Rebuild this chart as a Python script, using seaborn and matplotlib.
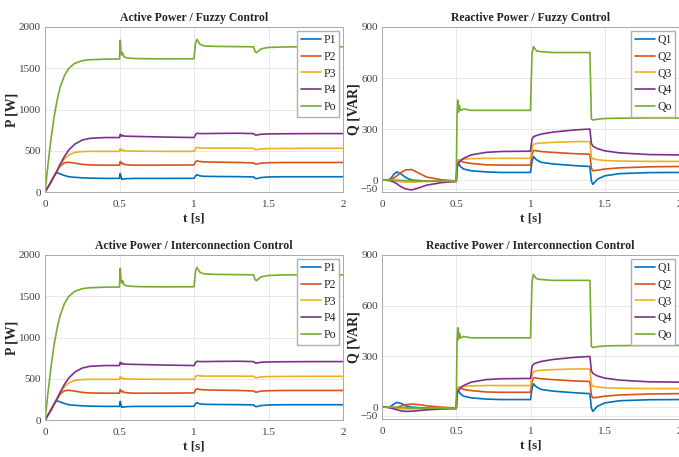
import numpy as np
import pandas as pd
import seaborn as sns
import matplotlib.pyplot as plt

# time breakpoints (s) shared by all traces
t = [0, 0.02, 0.04, 0.06, 0.08, 0.10, 0.13, 0.16, 0.20, 0.25, 0.30, 0.40, 0.50,
     0.505, 0.51, 0.515, 0.52, 0.53, 0.55, 0.60, 0.70, 0.80, 1.00,
     1.01, 1.02, 1.04, 1.07, 1.15, 1.30, 1.40,
     1.41, 1.42, 1.45, 1.50, 1.60, 1.80, 2.00]

# active power [W]
P1 = [0, 60, 120, 190, 235, 220, 200, 185, 178, 172, 168, 165, 165,
      225, 190, 152, 160, 158, 162, 165, 165, 165, 166,
      195, 210, 195, 190, 188, 186, 183,
      165, 162, 175, 182, 185, 185, 185]
P2 = [0, 60, 120, 190, 250, 310, 355, 360, 350, 335, 328, 325, 325,
      370, 355, 340, 350, 335, 330, 325, 325, 326, 328,
      365, 378, 370, 365, 362, 358, 352,
      340, 338, 350, 355, 358, 358, 358]
P3 = [0, 60, 120, 190, 255, 325, 400, 450, 480, 490, 493, 493, 493,
      525, 515, 500, 512, 500, 498, 495, 494, 493, 493,
      525, 540, 535, 532, 532, 532, 530,
      515, 512, 522, 526, 528, 530, 530]
P4 = [0, 60, 120, 190, 255, 330, 430, 510, 580, 630, 650, 660, 660,
      700, 690, 675, 688, 678, 676, 674, 670, 666, 660,
      695, 712, 708, 708, 710, 712, 708,
      692, 690, 700, 704, 706, 708, 708]
Po = [0, 330, 640, 900, 1100, 1260, 1410, 1500, 1560, 1592, 1603, 1610, 1612,
      1840, 1700, 1660, 1690, 1640, 1625, 1618, 1615, 1614, 1615,
      1800, 1850, 1790, 1770, 1765, 1762, 1760,
      1700, 1690, 1735, 1752, 1758, 1760, 1760]

# reactive power [VAR], fuzzy control
Q1_fz = [0, 0, 0, 10, 35, 48, 35, 15, 0, -3, -5, -6, -7,
         80, 105, 100, 90, 78, 65, 55, 48, 45, 45,
         110, 138, 120, 105, 95, 85, 80,
         -5, -25, 5, 25, 38, 44, 45]
Q2_fz = [0, 0, 2, 5, 12, 25, 45, 60, 62, 40, 18, 2, -5,
         80, 110, 118, 118, 112, 105, 98, 90, 88, 88,
         150, 175, 172, 168, 163, 155, 152,
         70, 55, 58, 65, 72, 78, 80]
Q3_fz = [0, 0, 0, -2, -5, -8, -10, -12, -12, -10, -8, -7, -7,
         80, 105, 115, 118, 120, 123, 126, 128, 128, 128,
         190, 210, 215, 218, 222, 226, 226,
         135, 125, 120, 115, 112, 110, 110]
Q4_fz = [0, 0, -2, -5, -12, -22, -40, -52, -58, -45, -30, -15, -8,
         60, 90, 100, 105, 115, 128, 148, 163, 168, 170,
         240, 255, 262, 270, 282, 295, 300,
         215, 200, 185, 172, 160, 150, 148]
Qo_fz = [0, 0, 0, 0, 0, 0, -2, -3, -5, -6, -6, -7, -8,
         380, 470, 400, 440, 410, 418, 410, 410, 410, 410,
         740, 785, 760, 755, 750, 750, 750,
         360, 353, 358, 362, 364, 365, 365]

# reactive power, interconnection control: start-up part (t <= 0.5)
Q1_ic_start = [0, 0, 0, 5, 18, 28, 22, 8, 0, -3, -5, -6, -7]
Q2_ic_start = [0, 0, 0, -3, -5, -2, 8, 15, 18, 15, 8, 0, -5]
Q3_ic_start = [0, 0, 0, -2, -4, -5, -8, -10, -10, -9, -8, -7, -7]
Q4_ic_start = [0, 0, -2, -5, -10, -15, -22, -25, -24, -20, -16, -11, -8]
Qo_ic_start = [0, 0, 0, 0, 0, 0, -2, -3, -5, -6, -6, -7, -8]

colors = ['#0072BD', '#D95319', '#EDB120', '#7E2F8E', '#77AC30']
P_names = ['P1', 'P2', 'P3', 'P4', 'Po']
Q_names = ['Q1', 'Q2', 'Q3', 'Q4', 'Qo']

Q_fz = [Q1_fz, Q2_fz, Q3_fz, Q4_fz, Qo_fz]
# after t = 0.5 both controllers give the same reactive traces
Q_ic = [s + q[13:] for s, q in zip(
    [Q1_ic_start, Q2_ic_start, Q3_ic_start, Q4_ic_start, Qo_ic_start], Q_fz)]


def long_df(names, series):
    return pd.DataFrame({
        't': np.tile(t, len(names)),
        'value': np.concatenate([np.asarray(s, float) for s in series]),
        'name': np.repeat(names, len(t)),
    })


sns.set_theme(style='whitegrid')
plt.rcParams['font.family'] = ['Liberation Serif', 'DejaVu Serif']

fig = plt.figure(figsize=(6.79, 4.57), dpi=100)
W, H = 679, 457


def box(l, tp, r, b):
    return [l / W, 1 - b / H, (r - l) / W, (b - tp) / H]


panels = [
    (box(45, 27, 343, 192), 'Active Power / Fuzzy Control', P_names,
     [P1, P2, P3, P4, Po], 'P [W]'),
    (box(382, 27, 679, 192), 'Reactive Power / Fuzzy Control', Q_names,
     Q_fz, 'Q [VAR]'),
    (box(45, 255, 343, 420), 'Active Power / Interconnection Control', P_names,
     [P1, P2, P3, P4, Po], 'P [W]'),
    (box(382, 255, 679, 419), 'Reactive Power / Interconnection Control', Q_names,
     Q_ic, 'Q [VAR]'),
]

for rect, title, names, series, ylab in panels:
    ax = fig.add_axes(rect)
    df = long_df(names, series)
    sns.lineplot(data=df, x='t', y='value', hue='name', palette=colors,
                 linewidth=1.2, ax=ax, legend=False)
    ax.set_xlim(0, 2)
    ax.set_xticks([0, 0.5, 1, 1.5, 2], ['0', '0.5', '1', '1.5', '2'])
    if ylab.startswith('P'):
        ax.set_ylim(0, 2000)
        ax.set_yticks([0, 500, 1000, 1500, 2000])
    else:
        ax.set_ylim(-70, 900)
        ax.set_yticks([-50, 0, 300, 600, 900])
    ax.set_title(title, fontsize=8.5, fontweight='bold', pad=4)
    ax.set_xlabel('t [s]', fontsize=9.5, fontweight='bold', labelpad=2)
    ax.set_ylabel(ylab, fontsize=10, fontweight='bold', labelpad=0)
    ax.tick_params(direction='in', length=3, labelsize=8, colors='#404040',
                   width=0.5)
    ax.tick_params(axis='x', pad=6)
    ax.tick_params(axis='y', pad=3)
    ax.grid(True, color='#e4e4e4', linewidth=0.6)
    for sp in ax.spines.values():
        sp.set_color('#a8a8a8')
        sp.set_linewidth(0.7)
    handles = ax.get_lines()[:5]
    ax.legend(handles, names, loc='upper right', fontsize=8.5, frameon=True,
              fancybox=False, edgecolor='#b0b0b0', framealpha=1,
              borderpad=0.3, labelspacing=0.4, handlelength=1.7,
              handletextpad=0.2, borderaxespad=0.3)

fig.savefig('out.png', dpi=100)
